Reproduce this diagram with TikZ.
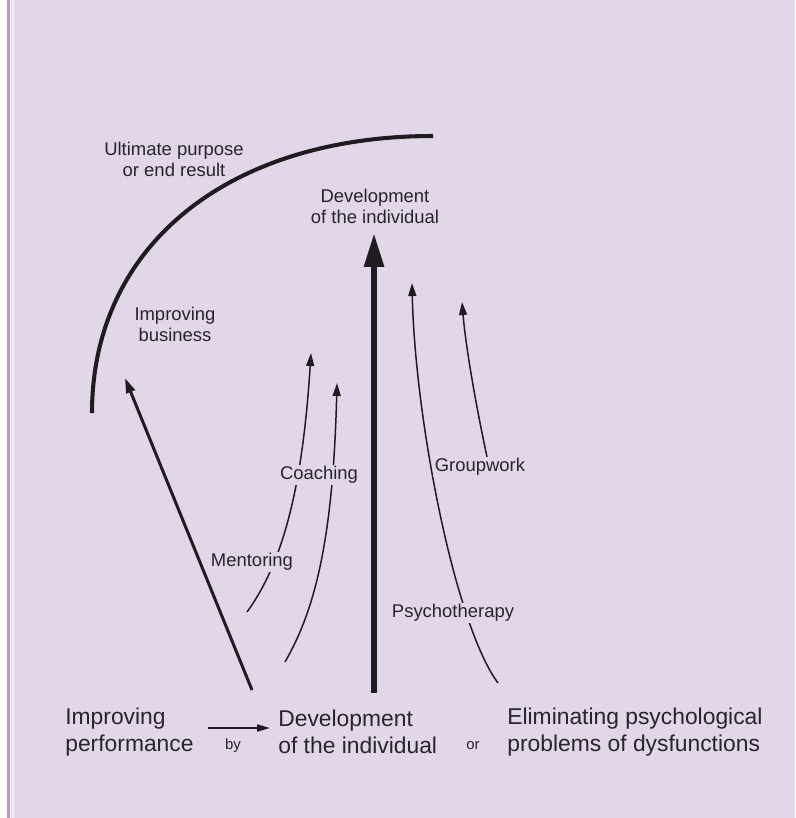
\documentclass[tikz,border=0pt]{standalone}
\usepackage{fontspec}
\setmainfont{Liberation Sans}
\usetikzlibrary{arrows.meta}
\definecolor{lilac}{RGB}{226,214,233}
\definecolor{edge}{RGB}{190,150,200}
\definecolor{ink}{RGB}{32,27,32}
\definecolor{textgray}{RGB}{40,36,42}

\begin{document}
\begin{tikzpicture}[x=0.02cm,y=-0.02cm,
    heading/.style={inner sep=1pt,text=textgray,align=center,
        font=\fontsize{10.5}{12}\selectfont},
    tag/.style={heading,fill=lilac},
    big/.style={inner sep=0pt,text=textgray,align=left,anchor=west,
        font=\fontsize{13}{15.3}\selectfont},
    small/.style={inner sep=0pt,text=textgray,font=\fontsize{8.5}{10}\selectfont},
    thinarrow/.style={ink,line width=0.85pt,-{Triangle[length=0.26cm,width=0.16cm]}}]
        \useasboundingbox (0,0) rectangle (795,818);
        \fill [white] (0,0) rectangle (795,818);
        \fill [lilac] (7,0) rectangle (795,818);
        \fill [lilac!60!white] (9.5,0) rectangle (15,818);
        \fill [edge] (7,0) rectangle (9.5,818);
        \coordinate (arcL) at (92,413);
        \coordinate (arcR) at (433,136);
        \coordinate (devbase) at (374,693);
        \coordinate (devtip) at (374,233);
        \coordinate (busbase) at (252,690);
        \coordinate (bustip) at (125,378);
        \coordinate (mentbase) at (247,612);
        \coordinate (menttip) at (311,353);
        \coordinate (coachbase) at (285,662);
        \coordinate (coachtip) at (337,383);
        \coordinate (psybase) at (498,683);
        \coordinate (psytip) at (412,283);
        \coordinate (grpbase) at (487,457);
        \coordinate (grptip) at (462,302);
        \draw [ink, line width=2.3pt] (arcL) .. controls (92,245.6) and (228.4,136) .. (arcR);
        \draw [ink, line width=3.4pt, -{Triangle[length=0.68cm,width=0.38cm]}] (devbase) -- (devtip);
        \draw [ink, line width=1.7pt, -{Triangle[length=0.3cm,width=0.18cm]}] (busbase) -- (bustip);
        \draw [thinarrow] (mentbase) .. controls (285,560) and (303,480) .. (menttip);
        \draw [thinarrow] (coachbase) .. controls (315,610) and (333,540) .. (coachtip);
        \draw [thinarrow] (psybase) .. controls (455,625) and (415,420) .. (psytip);
        \draw [thinarrow] (grpbase) .. controls (477,410) and (466,350) .. (grptip);
        \node [heading] (ultimate) at (174,159) {Ultimate purpose\\or end result};
        \node [heading] (devtop) at (375,206) {Development\\of the individual};
        \node [heading] (business) at (175,324) {Improving\\business};
        \node [tag] (mentoring) at (252,562) {Mentoring};
        \node [tag] (coaching) at (319,475) {Coaching};
        \node [tag] (psycho) at (453,613) {Psychotherapy};
        \node [tag] (groupwork) at (480,467) {Groupwork};
        \node [big] (perf) at (65,732) {Improving\\performance};
        \node [big] (devlow) at (278,732) {Development\\of the individual};
        \node [big] (elim) at (507,732) {Eliminating psychological\\problems of dysfunctions};
        \node [small] (by) at (233,746) {by};
        \node [small] (or) at (473,746) {or};
        \draw [ink, line width=1.1pt, -{Triangle[length=0.26cm,width=0.14cm]}]
            ([xshift=0.28cm,yshift=0.08cm]perf.east) -- ([xshift=-0.16cm,yshift=0.08cm]devlow.west);
    \end{tikzpicture}
\end{document}
